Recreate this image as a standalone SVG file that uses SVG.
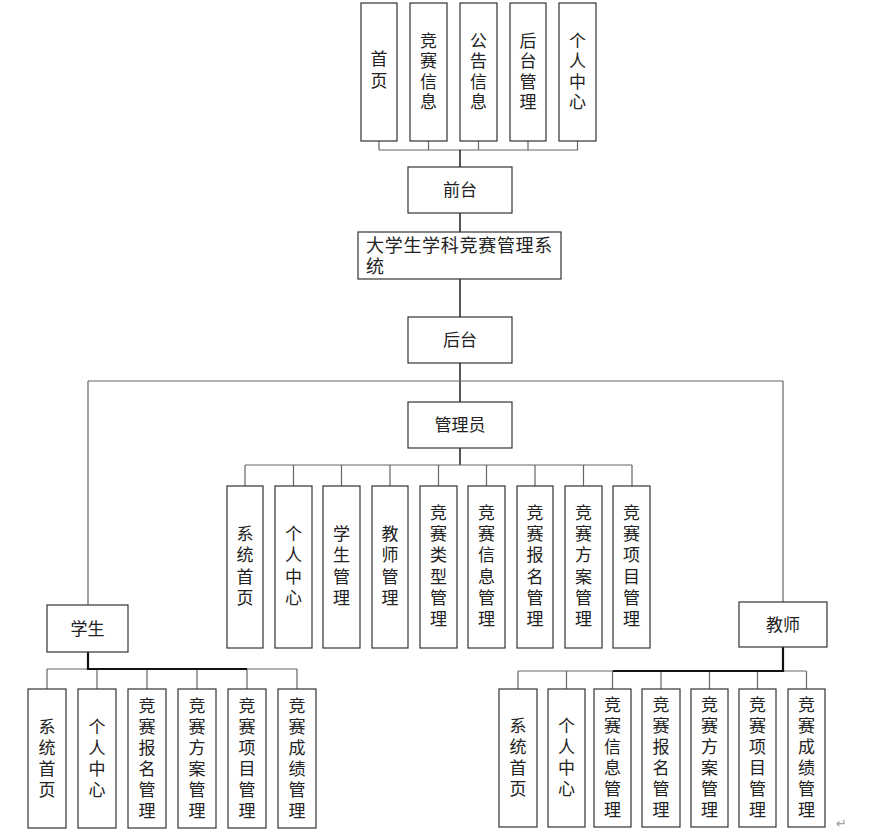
<svg xmlns="http://www.w3.org/2000/svg" width="875" height="836" viewBox="0 0 875 836">
<style>
.box{fill:#fff;stroke:#333;stroke-width:1.2}
.t{font-family:"Liberation Serif","Noto Sans CJK SC",serif;font-size:17px;fill:#222}
.c{text-anchor:middle}
.ln{stroke:#666;stroke-width:1.2;fill:none}
.trunk{stroke:#111;stroke-width:1.4;fill:none}
.thick{stroke:#111;stroke-width:2.2;fill:none}
</style>
<rect width="875" height="836" fill="#fff"/>
<g id="connectors">
<path class="ln" d="M379 141V150M428.5 141V150M478.5 141V150M528 141V150M577.5 141V150M379 150H578"/>
<path class="trunk" d="M460 150V167M460 213V232M460 279V317M460 363V402M460 448V465"/>
<path class="ln" d="M88 381H783M88 381V605M783 381V602"/>
<path class="ln" d="M245 465H632M245 465V486M293.5 465V486M341.5 465V486M390 465V486M438.5 465V486M486.5 465V486M535 465V486M583.5 465V486M632 465V486"/>
<path class="ln" d="M47 669H297M47 669V689M97 669V689M147 669V689M197 669V689M247 669V689M297 669V689"/>
<path class="thick" d="M88 652V669H247"/>
<path class="ln" d="M518 671H806M518 671V689M566.5 671V689M612.5 671V689M661 671V689M709.5 671V689M757.5 671V689M806.5 671V689"/>
<path class="thick" d="M783 647V671H613"/>
</g>
<g id="n-home"><rect class="box" x="361" y="3" width="36" height="138"/><text class="t c"><tspan x="379" y="65">首</tspan><tspan x="379" y="87">页</tspan></text></g>
<g id="n-info"><rect class="box" x="410" y="3" width="37" height="138"/><text class="t c"><tspan x="428.5" y="46.5">竞</tspan><tspan x="428.5" y="67">赛</tspan><tspan x="428.5" y="87.5">信</tspan><tspan x="428.5" y="108">息</tspan></text></g>
<g id="n-notice"><rect class="box" x="460" y="3" width="37" height="138"/><text class="t c"><tspan x="478.5" y="46.5">公</tspan><tspan x="478.5" y="67">告</tspan><tspan x="478.5" y="87.5">信</tspan><tspan x="478.5" y="108">息</tspan></text></g>
<g id="n-backadmin"><rect class="box" x="510" y="3" width="36" height="138"/><text class="t c"><tspan x="528" y="46.5">后</tspan><tspan x="528" y="67">台</tspan><tspan x="528" y="87.5">管</tspan><tspan x="528" y="108">理</tspan></text></g>
<g id="n-personal"><rect class="box" x="559" y="3" width="37" height="138"/><text class="t c"><tspan x="577.5" y="46.5">个</tspan><tspan x="577.5" y="67">人</tspan><tspan x="577.5" y="87.5">中</tspan><tspan x="577.5" y="108">心</tspan></text></g>
<g id="n-front"><rect class="box" x="408" y="167" width="104" height="46"/><text class="t c" x="460" y="196">前台</text></g>
<g id="n-system"><rect class="box" x="358" y="232" width="203" height="47"/><text class="t" style="font-size:18px;letter-spacing:0.7px"><tspan x="366" y="252">大学生学科竞赛管理系</tspan><tspan x="366" y="273">统</tspan></text></g>
<g id="n-back"><rect class="box" x="408" y="317" width="104" height="46"/><text class="t c" x="460" y="346">后台</text></g>
<g id="n-admin"><rect class="box" x="408" y="402" width="104" height="46"/><text class="t c" x="460" y="431">管理员</text></g>
<g id="a1"><rect class="box" x="227" y="486" width="36" height="162"/><text class="t c"><tspan x="245" y="540">系</tspan><tspan x="245" y="561.3">统</tspan><tspan x="245" y="582.6">首</tspan><tspan x="245" y="604">页</tspan></text></g>
<g id="a2"><rect class="box" x="275" y="486" width="37" height="162"/><text class="t c"><tspan x="293.5" y="540">个</tspan><tspan x="293.5" y="561.3">人</tspan><tspan x="293.5" y="582.6">中</tspan><tspan x="293.5" y="604">心</tspan></text></g>
<g id="a3"><rect class="box" x="323" y="486" width="37" height="162"/><text class="t c"><tspan x="341.5" y="540">学</tspan><tspan x="341.5" y="561.3">生</tspan><tspan x="341.5" y="582.6">管</tspan><tspan x="341.5" y="604">理</tspan></text></g>
<g id="a4"><rect class="box" x="372" y="486" width="36" height="162"/><text class="t c"><tspan x="390" y="540">教</tspan><tspan x="390" y="561.3">师</tspan><tspan x="390" y="582.6">管</tspan><tspan x="390" y="604">理</tspan></text></g>
<g id="a5"><rect class="box" x="420" y="486" width="37" height="162"/><text class="t c"><tspan x="438.5" y="518.8">竞</tspan><tspan x="438.5" y="540">赛</tspan><tspan x="438.5" y="561.3">类</tspan><tspan x="438.5" y="582.6">型</tspan><tspan x="438.5" y="604">管</tspan><tspan x="438.5" y="625.3">理</tspan></text></g>
<g id="a6"><rect class="box" x="468" y="486" width="37" height="162"/><text class="t c"><tspan x="486.5" y="518.8">竞</tspan><tspan x="486.5" y="540">赛</tspan><tspan x="486.5" y="561.3">信</tspan><tspan x="486.5" y="582.6">息</tspan><tspan x="486.5" y="604">管</tspan><tspan x="486.5" y="625.3">理</tspan></text></g>
<g id="a7"><rect class="box" x="517" y="486" width="36" height="162"/><text class="t c"><tspan x="535" y="518.8">竞</tspan><tspan x="535" y="540">赛</tspan><tspan x="535" y="561.3">报</tspan><tspan x="535" y="582.6">名</tspan><tspan x="535" y="604">管</tspan><tspan x="535" y="625.3">理</tspan></text></g>
<g id="a8"><rect class="box" x="565" y="486" width="37" height="162"/><text class="t c"><tspan x="583.5" y="518.8">竞</tspan><tspan x="583.5" y="540">赛</tspan><tspan x="583.5" y="561.3">方</tspan><tspan x="583.5" y="582.6">案</tspan><tspan x="583.5" y="604">管</tspan><tspan x="583.5" y="625.3">理</tspan></text></g>
<g id="a9"><rect class="box" x="613" y="486" width="37" height="162"/><text class="t c"><tspan x="631.5" y="518.8">竞</tspan><tspan x="631.5" y="540">赛</tspan><tspan x="631.5" y="561.3">项</tspan><tspan x="631.5" y="582.6">目</tspan><tspan x="631.5" y="604">管</tspan><tspan x="631.5" y="625.3">理</tspan></text></g>
<g id="n-student"><rect class="box" x="47" y="605" width="81" height="47"/><text class="t c" x="87.5" y="634.5">学生</text></g>
<g id="n-teacher"><rect class="box" x="739" y="602" width="88" height="45"/><text class="t c" x="783" y="630.5">教师</text></g>
<g id="s1"><rect class="box" x="28" y="689" width="38" height="139"/><text class="t c"><tspan x="47" y="732.5">系</tspan><tspan x="47" y="753.5">统</tspan><tspan x="47" y="774.5">首</tspan><tspan x="47" y="795.5">页</tspan></text></g>
<g id="s2"><rect class="box" x="78" y="689" width="38" height="139"/><text class="t c"><tspan x="97" y="732.5">个</tspan><tspan x="97" y="753.5">人</tspan><tspan x="97" y="774.5">中</tspan><tspan x="97" y="795.5">心</tspan></text></g>
<g id="s3"><rect class="box" x="128" y="689" width="38" height="139"/><text class="t c"><tspan x="147" y="711.5">竞</tspan><tspan x="147" y="732.5">赛</tspan><tspan x="147" y="753.5">报</tspan><tspan x="147" y="774.5">名</tspan><tspan x="147" y="795.5">管</tspan><tspan x="147" y="816.5">理</tspan></text></g>
<g id="s4"><rect class="box" x="178" y="689" width="38" height="139"/><text class="t c"><tspan x="197" y="711.5">竞</tspan><tspan x="197" y="732.5">赛</tspan><tspan x="197" y="753.5">方</tspan><tspan x="197" y="774.5">案</tspan><tspan x="197" y="795.5">管</tspan><tspan x="197" y="816.5">理</tspan></text></g>
<g id="s5"><rect class="box" x="228" y="689" width="38" height="139"/><text class="t c"><tspan x="247" y="711.5">竞</tspan><tspan x="247" y="732.5">赛</tspan><tspan x="247" y="753.5">项</tspan><tspan x="247" y="774.5">目</tspan><tspan x="247" y="795.5">管</tspan><tspan x="247" y="816.5">理</tspan></text></g>
<g id="s6"><rect class="box" x="278" y="689" width="38" height="139"/><text class="t c"><tspan x="297" y="711.5">竞</tspan><tspan x="297" y="732.5">赛</tspan><tspan x="297" y="753.5">成</tspan><tspan x="297" y="774.5">绩</tspan><tspan x="297" y="795.5">管</tspan><tspan x="297" y="816.5">理</tspan></text></g>
<g id="t1"><rect class="box" x="499" y="689" width="38" height="138"/><text class="t c"><tspan x="518" y="732">系</tspan><tspan x="518" y="753">统</tspan><tspan x="518" y="774">首</tspan><tspan x="518" y="795">页</tspan></text></g>
<g id="t2"><rect class="box" x="548" y="689" width="37" height="138"/><text class="t c"><tspan x="566.5" y="732">个</tspan><tspan x="566.5" y="753">人</tspan><tspan x="566.5" y="774">中</tspan><tspan x="566.5" y="795">心</tspan></text></g>
<g id="t3"><rect class="box" x="594" y="689" width="37" height="138"/><text class="t c"><tspan x="612.5" y="711">竞</tspan><tspan x="612.5" y="732">赛</tspan><tspan x="612.5" y="753">信</tspan><tspan x="612.5" y="774">息</tspan><tspan x="612.5" y="795">管</tspan><tspan x="612.5" y="816">理</tspan></text></g>
<g id="t4"><rect class="box" x="642" y="689" width="38" height="138"/><text class="t c"><tspan x="661" y="711">竞</tspan><tspan x="661" y="732">赛</tspan><tspan x="661" y="753">报</tspan><tspan x="661" y="774">名</tspan><tspan x="661" y="795">管</tspan><tspan x="661" y="816">理</tspan></text></g>
<g id="t5"><rect class="box" x="691" y="689" width="37" height="138"/><text class="t c"><tspan x="709.5" y="711">竞</tspan><tspan x="709.5" y="732">赛</tspan><tspan x="709.5" y="753">方</tspan><tspan x="709.5" y="774">案</tspan><tspan x="709.5" y="795">管</tspan><tspan x="709.5" y="816">理</tspan></text></g>
<g id="t6"><rect class="box" x="739" y="689" width="37" height="138"/><text class="t c"><tspan x="757.5" y="711">竞</tspan><tspan x="757.5" y="732">赛</tspan><tspan x="757.5" y="753">项</tspan><tspan x="757.5" y="774">目</tspan><tspan x="757.5" y="795">管</tspan><tspan x="757.5" y="816">理</tspan></text></g>
<g id="t7"><rect class="box" x="788" y="689" width="37" height="138"/><text class="t c"><tspan x="806.5" y="711">竞</tspan><tspan x="806.5" y="732">赛</tspan><tspan x="806.5" y="753">成</tspan><tspan x="806.5" y="774">绩</tspan><tspan x="806.5" y="795">管</tspan><tspan x="806.5" y="816">理</tspan></text></g>
<text x="836" y="828" style="font-family:'DejaVu Sans',sans-serif;font-size:13px;fill:#999">↵</text>
</svg>
